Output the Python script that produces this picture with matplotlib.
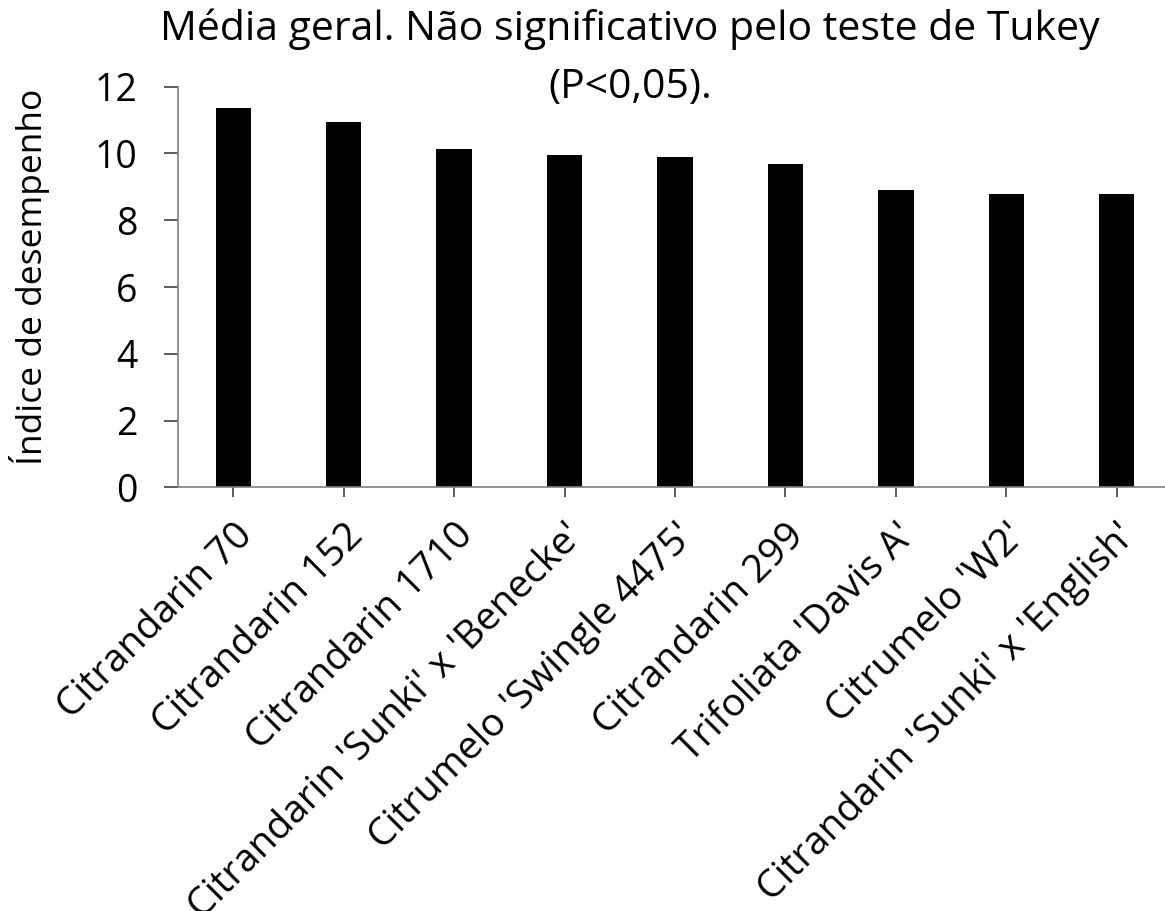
import matplotlib
matplotlib.use("Agg")
import matplotlib.pyplot as plt
import numpy as np

# data
categories = ["Citrandarin 70", "Citrandarin 152", "Citrandarin 1710",
              "Citrandarin 'Sunki' x 'Benecke'", "Citrumelo 'Swingle 4475'",
              "Citrandarin 299", "Trifoliata 'Davis A'", "Citrumelo 'W2'",
              "Citrandarin 'Sunki' x 'English'"]
values = [11.37, 10.93, 10.12, 9.96, 9.90, 9.68, 8.90, 8.80, 8.78]
yticks = [0, 2, 4, 6, 8, 10, 12]

plt.rcParams['font.family'] = ['Open Sans', 'DejaVu Sans']

W, H = 1165, 911
fig = plt.figure(figsize=(W / 100, H / 100), dpi=100)
ax = fig.add_axes([178/W, 1 - 487.3/H, (1172 - 178)/W, (487.3 - 86.7)/H])

x = np.arange(len(categories))
ax.bar(x, values, width=0.32, color="black")
ax.set_xlim(-0.5, len(categories) - 0.5)
ax.set_ylim(0, 12)
ax.set_yticks(yticks)
ax.set_xticks(x)
ax.set_xticklabels(categories, rotation=45, ha="right", rotation_mode="anchor")

for s in ["top", "right"]:
    ax.spines[s].set_visible(False)
for s in ["left", "bottom"]:
    ax.spines[s].set_color("#808080")
    ax.spines[s].set_linewidth(1.2)
ax.tick_params(axis="y", length=10, width=1.2, color="#404040", labelsize=27, pad=19)
ax.tick_params(axis="x", length=7, width=1.2, color="#404040", labelsize=28, pad=14)

fig.text(30/W, 1 - 277/H, "Índice de desempenho", rotation=90,
         ha="center", va="center", fontsize=25.5)

fig.text(630/W, 1 - 40/H, "Média geral. Não significativo pelo teste de Tukey",
         ha="center", va="baseline", fontsize=29.5)
fig.text(630/W, 1 - 98/H, "(P<0,05).", ha="center", va="baseline", fontsize=29.5)

fig.savefig("out.png", dpi=100)
